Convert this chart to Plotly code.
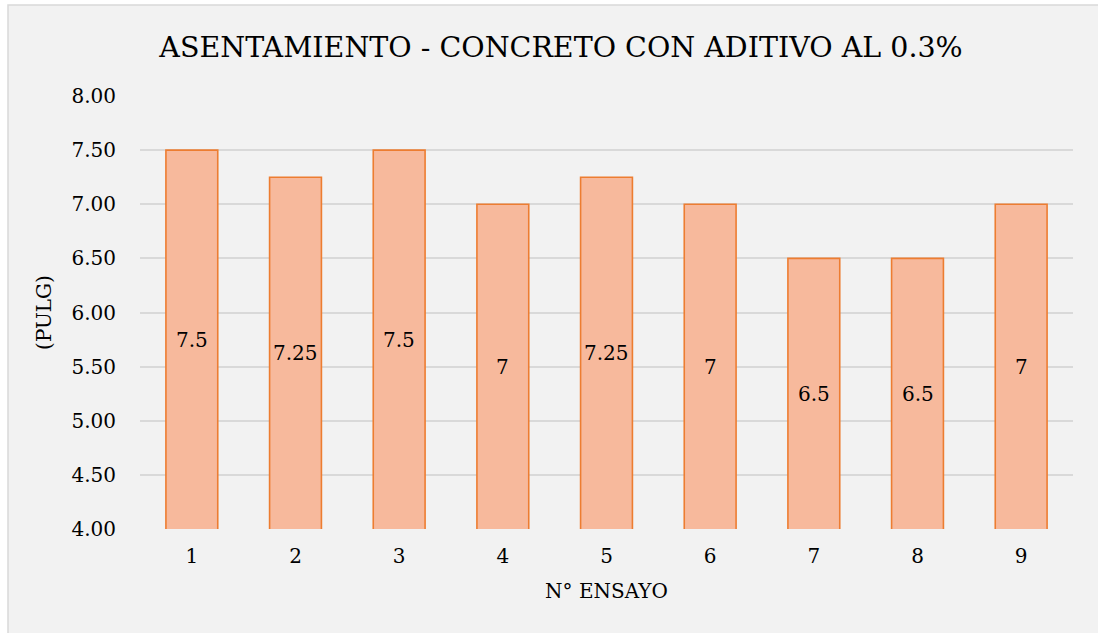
import plotly.graph_objects as go

# Slump test results, concrete with 0.3% additive
ensayos = ["1", "2", "3", "4", "5", "6", "7", "8", "9"]
asentamiento = [7.5, 7.25, 7.5, 7.0, 7.25, 7.0, 6.5, 6.5, 7.0]
y_ticks = [4.0, 4.5, 5.0, 5.5, 6.0, 6.5, 7.0, 7.5, 8.0]
Y_MIN, Y_MAX = 4.0, 8.0

FONT = "DejaVu Serif"
FS = 20
W, H = 1098, 633
ML, MR, MT, MB = 140, 25, 96, 104
pw, ph = W - ML - MR, H - MT - MB

fig = go.Figure()
fig.add_trace(go.Bar(
    x=ensayos,
    y=asentamiento,
    marker=dict(color="#f7b99c", line=dict(color="#ed7d31", width=1.6)),
    width=0.5,
    hoverinfo="x+y",
))

# value labels centred in the visible part of each bar
for i, v in enumerate(asentamiento):
    fig.add_annotation(
        x=i, y=(Y_MIN + v) / 2, xref="x", yref="y",
        text=f"{v:g}", showarrow=False,
        font=dict(family=FONT, size=FS, color="#000000"),
    )

# chart panel background with a thin frame
fig.add_shape(
    type="rect", xref="paper", yref="paper", layer="below",
    x0=(8 - ML) / pw, x1=(W + 20 - ML) / pw,
    y0=-(MB + 20) / ph, y1=(H - MB - 5) / ph,
    fillcolor="#f2f2f2", line=dict(color="#d9d9d9", width=1.5),
)

fig.update_layout(
    width=W, height=H,
    margin=dict(l=ML, r=MR, t=MT, b=MB),
    paper_bgcolor="#ffffff",
    plot_bgcolor="rgba(0,0,0,0)",
    font=dict(family=FONT, size=FS, color="#000000"),
    showlegend=False,
    title=dict(
        text="ASENTAMIENTO - CONCRETO CON ADITIVO AL 0.3%",
        font=dict(family=FONT, size=28.5, color="#000000"),
        x=561 / W, xanchor="center",
        y=1 - 47 / H, yanchor="middle",
    ),
    xaxis=dict(
        type="category", range=[-0.5, len(ensayos) - 0.5],
        showgrid=False, showline=False, zeroline=False,
        ticks="outside", ticklen=9, tickcolor="rgba(0,0,0,0)",
        tickfont=dict(family=FONT, size=FS),
        title=dict(text="N° ENSAYO", font=dict(family=FONT, size=FS), standoff=16),
    ),
    yaxis=dict(
        range=[Y_MIN, Y_MAX],
        tickvals=y_ticks,
        ticktext=[f"{v:.2f}" for v in y_ticks],
        showgrid=True, gridcolor="#d9d9d9", gridwidth=1.5,
        showline=False, zeroline=False,
        ticks="outside", ticklen=19, tickcolor="rgba(0,0,0,0)",
        tickfont=dict(family=FONT, size=FS),
        title=dict(text="(PULG)", font=dict(family=FONT, size=FS), standoff=14),
    ),
)

fig.write_html("out.html")
